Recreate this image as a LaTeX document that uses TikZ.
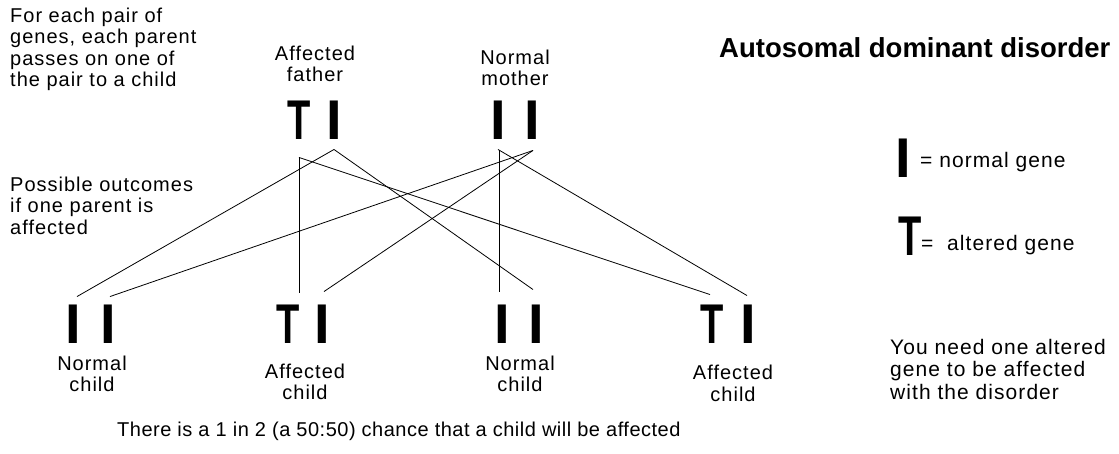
\documentclass[tikz,border=0pt]{standalone}
\usepackage{fontspec}
\setmainfont{Liberation Sans}[LetterSpace=5]
\usepackage{tikz}

\tikzset{
  gene/.style={font=\fontsize{56}{56}\selectfont\bfseries, inner sep=0pt},
  txt/.style={font=\fontsize{20}{21.5}\selectfont, inner sep=0pt},
  keytxt/.style={font=\fontsize{21}{22.5}\selectfont, inner sep=0pt},
  lbl/.style={txt, align=center, anchor=north},
  pass/.style={line width=0.8pt},
}
\newcommand{\tgene}{\scalebox{0.68}[1]{T}}

\begin{document}
\begin{tikzpicture}[x=1pt,y=-1pt]
\useasboundingbox (0,0) rectangle (1119,453);

% notes on the left
\node[txt, align=left, anchor=north west] (note) at (10,7.5)
  {For each pair of\\genes, each parent\\passes on one of\\the pair to a child};
\node[txt, align=left, anchor=north west] (outc) at (10,176.5)
  {Possible outcomes\\if one parent is\\affected};

% parents
\node[lbl] (father) at (315,45.5) {Affected\\father};
\node[lbl] (mother) at (515,49.5) {Normal\\mother};
\node[gene] (fT) at (299,120) {\tgene};
\node[gene] (fI) at (334,120) {I};
\node[gene] (mI1) at (498,120) {I};
\node[gene] (mI2) at (532,120) {I};

% children
\node[gene] (c1a) at (73,324) {I};
\node[gene] (c1b) at (108,324) {I};
\node[gene] (c2T) at (288,324) {\tgene};
\node[gene] (c2I) at (322,324) {I};
\node[gene] (c3a) at (502,324) {I};
\node[gene] (c3b) at (536,324) {I};
\node[gene] (c4T) at (712,324) {\tgene};
\node[gene] (c4I) at (748,324) {I};
\node[lbl] (c1) at (92,355.5) {Normal\\child};
\node[lbl] (c2) at (305,363.5) {Affected\\child};
\node[lbl] (c3) at (520,355.5) {Normal\\child};
\node[lbl] (c4) at (733,365) {Affected\\child};

% genes passed on
\draw[pass] ([yshift=-18pt]fT.south) -- ([xshift=11pt,yshift=12pt]c2T.north);
\draw[pass] ([yshift=-18pt]fT.south) -- ([xshift=-2pt,yshift=10pt]c4T.north);
\draw[pass] ([yshift=-10pt]fI.south) -- ([xshift=4pt,yshift=8pt]c1a.north);
\draw[pass] ([yshift=-10pt]fI.south) -- ([xshift=-3pt,yshift=15pt]c3b.north);
\draw[pass] ([xshift=1pt,yshift=-11pt]mI1.south) -- ([xshift=-3pt,yshift=13pt]c3a.north);
\draw[pass] ([yshift=-10pt]mI1.south) -- ([xshift=-1pt,yshift=9pt]c4I.north);
\draw[pass] ([xshift=1pt,yshift=-11pt]mI2.south) -- ([xshift=2pt,yshift=8pt]c1b.north);
\draw[pass] ([xshift=1pt,yshift=-11pt]mI2.south) -- ([xshift=2pt,yshift=13pt]c2I.north);

\node[txt, anchor=base west] (chance) at (117,436)
  {\addfontfeature{LetterSpace=2.5}There is a 1 in 2 (a 50:50) chance that a child will be affected};

% title and key
\node[txt, font=\fontsize{27.5}{30}\selectfont\bfseries, anchor=base west] (title) at (719,57)
  {\addfontfeature{LetterSpace=0}Autosomal dominant disorder};
\node[gene] (kI) at (903,158) {I};
\node[keytxt, anchor=base west] (kItxt) at (920,167) {= normal gene};
\node[gene] (kT) at (910,236) {\tgene};
\node[keytxt, anchor=base west] (kTtxt) at (921,250) {=\ \ altered gene};
\node[keytxt, align=left, anchor=north west] (need) at (890,339)
  {You need one altered\\gene to be affected\\with the disorder};
\end{tikzpicture}
\end{document}
